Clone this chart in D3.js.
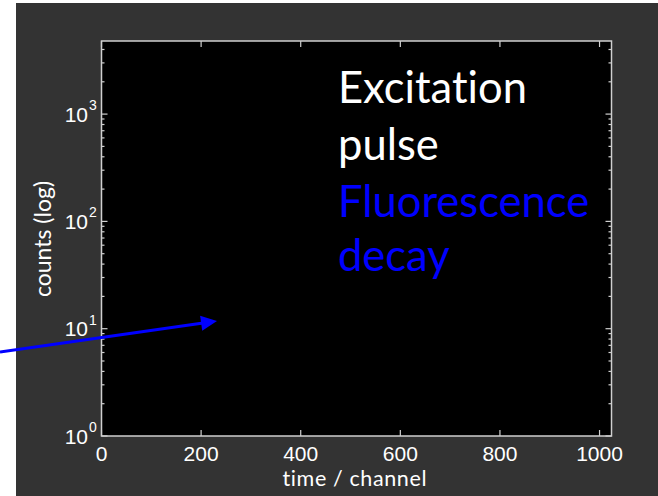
<!DOCTYPE html>
<html><head><meta charset="utf-8">
<script src="https://cdn.jsdelivr.net/npm/d3@7"></script>
<style>html,body{margin:0;padding:0;background:#fff;}svg{display:block;}text{font-variant-ligatures:none;font-feature-settings:"liga" 0;}</style>
</head><body>
<script>
// ---- data ----
const xTicks = [0, 200, 400, 600, 800, 1000];
const xDomain = [0, 1024];
const yDecades = [1, 10, 100, 1000];
const yExponents = ["0", "1", "2", "3"];
const yDomain = [1, 4800];
const legendLines = ["Excitation", "pulse", "Fluorescence", "decay"];
const legendColors = ["#ffffff", "#ffffff", "#0000ff", "#0000ff"];
const xLabel = "time / channel";
const yLabel = "counts (log)";

const W = 658, H = 496;
const svg = d3.select("body").append("svg").attr("width", W).attr("height", H);

// backgrounds
svg.append("rect").attr("x", 0).attr("y", 0).attr("width", W).attr("height", H).attr("fill", "#ffffff");
svg.append("rect").attr("x", 16).attr("y", 3).attr("width", W - 16).attr("height", H - 3).attr("fill", "#333333");

const L = 101.5, R = 611.5, T = 41, B = 436;
const x = d3.scaleLinear().domain(xDomain).range([L, R]);
const y = d3.scaleLog().domain(yDomain).range([B, T]);

svg.append("rect").attr("x", L).attr("y", T).attr("width", R - L).attr("height", B - T).attr("fill", "#000");

const tickColor = "#d0d0d0";
const g = svg.append("g").attr("stroke", tickColor).attr("stroke-width", 1.2);

// x ticks (bottom & top, inward)
xTicks.forEach(v => {
  g.append("line").attr("x1", x(v)).attr("x2", x(v)).attr("y1", B).attr("y2", B - 6);
  g.append("line").attr("x1", x(v)).attr("x2", x(v)).attr("y1", T).attr("y2", T + 6);
});

// y ticks major + minor (left & right, inward)
const minor = [];
for (let d = 1; d <= 1000; d *= 10) for (let k = 2; k <= 9; k++) if (d * k <= yDomain[1]) minor.push(d * k);
minor.forEach(v => {
  g.append("line").attr("x1", L).attr("x2", L + 3).attr("y1", y(v)).attr("y2", y(v));
  g.append("line").attr("x1", R).attr("x2", R - 3).attr("y1", y(v)).attr("y2", y(v));
});
yDecades.forEach(v => {
  g.append("line").attr("x1", L).attr("x2", L + 6).attr("y1", y(v)).attr("y2", y(v));
  g.append("line").attr("x1", R).attr("x2", R - 6).attr("y1", y(v)).attr("y2", y(v));
});

// box
svg.append("rect").attr("x", L).attr("y", T).attr("width", R - L).attr("height", B - T)
  .attr("fill", "none").attr("stroke", tickColor).attr("stroke-width", 1.5);

const tickFont = "'Liberation Sans', Arial, sans-serif";
// x tick labels
xTicks.forEach(v => {
  svg.append("text").attr("x", x(v)).attr("y", 460.5).attr("text-anchor", "middle")
    .attr("font-family", tickFont).attr("font-size", 21).attr("fill", "#fff").text(v);
});
// y tick labels 10^n
yDecades.forEach((v, i) => {
  svg.append("text").attr("x", 88).attr("y", y(v) + 7.5).attr("text-anchor", "end")
    .attr("font-family", tickFont).attr("font-size", 21).attr("fill", "#fff").text("10");
  svg.append("text").attr("x", 89).attr("y", y(v) - 4).attr("text-anchor", "start")
    .attr("font-family", tickFont).attr("font-size", 14).attr("fill", "#fff").text(yExponents[i]);
});

const labelFont = "Lato, 'Open Sans', sans-serif";
svg.append("text").attr("x", (L + R) / 2 - 2).attr("y", 486).attr("text-anchor", "middle")
  .attr("font-family", labelFont).attr("font-size", 21.5).attr("fill", "#fff")
  .attr("textLength", 144).attr("lengthAdjust", "spacing").text(xLabel);
svg.append("text").attr("transform", "translate(51,239) rotate(-90)").attr("text-anchor", "middle")
  .attr("font-family", labelFont).attr("font-size", 23).attr("fill", "#fff").text(yLabel);

// legend-like text
const baselines = [103, 160, 217, 271];
legendLines.forEach((s, i) => {
  svg.append("text").attr("x", 338).attr("y", baselines[i])
    .attr("font-family", labelFont).attr("font-size", 43.5).attr("fill", legendColors[i]).text(s);
});

// arrow annotation
const a0 = [0, 352], a1 = [217, 321];
const dx = a1[0] - a0[0], dy = a1[1] - a0[1], len = Math.hypot(dx, dy);
const ux = dx / len, uy = dy / len, px = -uy, py = ux;
const hl = 16, hw = 7.5;
const bx = a1[0] - hl * ux, by = a1[1] - hl * uy;
svg.append("line").attr("x1", a0[0]).attr("y1", a0[1]).attr("x2", bx + 2 * ux).attr("y2", by + 2 * uy)
  .attr("stroke", "#0000ff").attr("stroke-width", 3);
svg.append("path").attr("d", `M${a1[0]},${a1[1]}L${bx + hw * px},${by + hw * py}L${bx - hw * px},${by - hw * py}Z`)
  .attr("fill", "#0000ff");
</script>
</body></html>
